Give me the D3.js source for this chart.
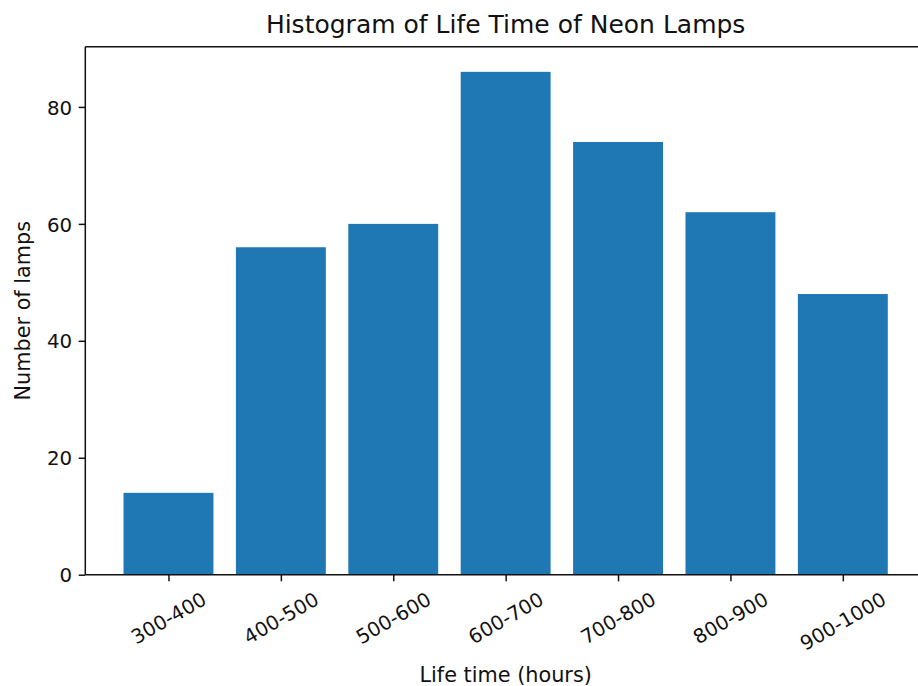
<!DOCTYPE html>
<html>
<head>
<meta charset="utf-8">
<script src="https://cdn.jsdelivr.net/npm/d3@7"></script>
<style>
  html, body { margin: 0; padding: 0; background: #fff; overflow: hidden; }
  svg { display: block; font-family: "DejaVu Sans", sans-serif; }
</style>
</head>
<body>
<svg id="chart" width="918" height="686"></svg>
<script>
// Life-time classes (hours) and the number of lamps in each
const categories = ["300-400", "400-500", "500-600", "600-700", "700-800", "800-900", "900-1000"];
const counts = [14, 56, 60, 86, 74, 62, 48];
const yTicks = [0, 20, 40, 60, 80];

const titleText = "Histogram of Life Time of Neon Lamps";
const xLabelText = "Life time (hours)";
const yLabelText = "Number of lamps";

const W = 918, H = 686;
const plot = { left: 85.3, right: 926, top: 46.7, bottom: 574.7 };
const tickFont = 19.8, labelFont = 20.8, titleFont = 25;
const tickLen = 6.6, tickPad = 6.6, lineW = 1.5;
const barColor = "#1f77b4";
const ink = "#111";

const svg = d3.select("#chart");

// Bars sit at integer positions with width 0.8 and 5% side margins
const n = categories.length;
const barW = 0.8;
const xMin = -barW / 2, xMax = (n - 1) + barW / 2;
const xPad = (xMax - xMin) * 0.05;
const x = d3.scaleLinear().domain([xMin - xPad, xMax + xPad]).range([plot.left, plot.right]);
const y = d3.scaleLinear().domain([0, d3.max(counts) * 1.05]).range([plot.bottom, plot.top]);

// Bars
svg.append("g").selectAll("rect")
  .data(counts)
  .join("rect")
  .attr("x", (d, i) => x(i - barW / 2))
  .attr("width", (d, i) => x(i + barW / 2) - x(i - barW / 2))
  .attr("y", d => y(d))
  .attr("height", d => y(0) - y(d))
  .attr("fill", barColor);

// Frame (spines)
const frame = svg.append("g").attr("fill", "none").attr("stroke", ink).attr("stroke-width", lineW);
frame.append("line").attr("x1", plot.left).attr("x2", plot.left).attr("y1", plot.top).attr("y2", plot.bottom);
frame.append("line").attr("x1", plot.left).attr("x2", plot.right).attr("y1", plot.bottom).attr("y2", plot.bottom);
frame.append("line").attr("x1", plot.left).attr("x2", plot.right).attr("y1", plot.top).attr("y2", plot.top);
frame.append("line").attr("x1", plot.right).attr("x2", plot.right).attr("y1", plot.top).attr("y2", plot.bottom);

// Y axis
const yAxis = d3.axisLeft(y)
  .tickValues(yTicks)
  .tickSize(tickLen)
  .tickPadding(tickPad)
  .tickFormat(d3.format("d"));
const gy = svg.append("g").attr("transform", `translate(${plot.left},0)`).call(yAxis);
gy.select(".domain").remove();
gy.selectAll(".tick line").attr("stroke", ink).attr("stroke-width", lineW);
gy.selectAll(".tick text")
  .attr("fill", ink)
  .attr("font-size", tickFont)
  .attr("font-family", "DejaVu Sans, sans-serif")
  .attr("dy", "0.36em");

// X axis: ticks at bar centres, labels rotated 30 degrees
const xAxis = d3.axisBottom(x)
  .tickValues(d3.range(n))
  .tickSize(tickLen)
  .tickFormat(i => categories[i]);
const gx = svg.append("g").attr("transform", `translate(0,${plot.bottom})`).call(xAxis);
gx.select(".domain").remove();
gx.selectAll(".tick line").attr("stroke", ink).attr("stroke-width", lineW);

const ang = 30 * Math.PI / 180;
const lineH = tickFont * 1.16;
gx.selectAll(".tick text")
  .attr("fill", ink)
  .attr("font-size", tickFont)
  .attr("font-family", "DejaVu Sans, sans-serif")
  .attr("text-anchor", "middle")
  .attr("dy", "0.32em")
  .attr("y", 0)
  .each(function () {
    const w = this.getComputedTextLength();
    const bh = w * Math.sin(ang) + lineH * Math.cos(ang);
    const cy = tickLen + tickPad + bh / 2;
    d3.select(this).attr("transform", `translate(0,${cy}) rotate(-30)`);
  });

// Title and axis labels
const cx = (plot.left + plot.right) / 2;
const cyMid = (plot.top + plot.bottom) / 2;
svg.append("text")
  .attr("x", cx).attr("y", 33.3)
  .attr("text-anchor", "middle")
  .attr("font-size", titleFont)
  .attr("fill", ink)
  .text(titleText);

svg.append("text")
  .attr("x", cx).attr("y", 681.5)
  .attr("text-anchor", "middle")
  .attr("font-size", labelFont)
  .attr("fill", ink)
  .text(xLabelText);

svg.append("text")
  .attr("transform", `translate(30.2,${cyMid}) rotate(-90)`)
  .attr("text-anchor", "middle")
  .attr("font-size", labelFont)
  .attr("fill", ink)
  .text(yLabelText);
</script>
</body>
</html>
